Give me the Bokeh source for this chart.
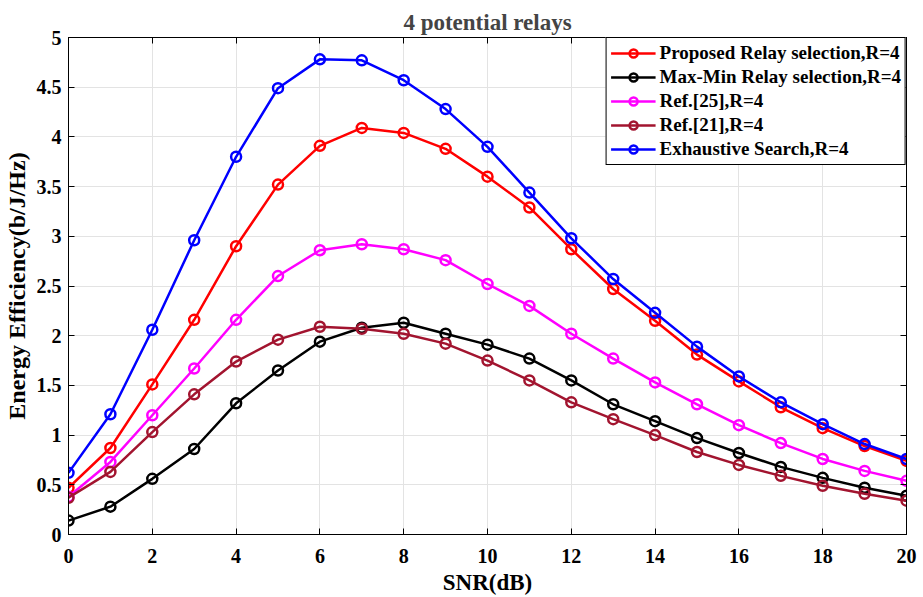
from bokeh.plotting import figure
from bokeh.models import FixedTicker, LinearAxis, Range1d, CustomJSTickFormatter
from bokeh.embed import file_html
from bokeh.resources import INLINE

snr = list(range(21))
proposed = [0.47, 0.87, 1.51, 2.16, 2.90, 3.52, 3.91, 4.09, 4.04, 3.88, 3.60, 3.29, 2.87,
            2.47, 2.15, 1.81, 1.54, 1.28, 1.07, 0.89, 0.74]
maxmin = [0.14, 0.28, 0.56, 0.86, 1.32, 1.65, 1.94, 2.08, 2.13, 2.02, 1.91, 1.77, 1.55,
          1.31, 1.14, 0.97, 0.82, 0.68, 0.57, 0.47, 0.39]
ref25 = [0.38, 0.73, 1.20, 1.67, 2.16, 2.60, 2.86, 2.92, 2.87, 2.76, 2.52, 2.30, 2.02,
         1.77, 1.53, 1.31, 1.10, 0.92, 0.76, 0.64, 0.54]
ref21 = [0.37, 0.63, 1.03, 1.41, 1.74, 1.96, 2.09, 2.07, 2.02, 1.92, 1.75, 1.55, 1.33,
         1.16, 1.00, 0.83, 0.70, 0.59, 0.49, 0.41, 0.34]
exhaustive = [0.62, 1.21, 2.06, 2.96, 3.80, 4.49, 4.78, 4.77, 4.57, 4.28, 3.90, 3.44, 2.98,
              2.57, 2.23, 1.89, 1.59, 1.33, 1.11, 0.91, 0.76]

series_labels = ["Proposed Relay selection,R=4", "Max-Min Relay selection,R=4",
                 "Ref.[25],R=4", "Ref.[21],R=4", "Exhaustive Search,R=4"]
series_colors = ["#FF0000", "#000000", "#FF00FF", "#A2142F", "#0000FF"]
series_values = [proposed, maxmin, ref25, ref21, exhaustive]

x_ticks = [0, 2, 4, 6, 8, 10, 12, 14, 16, 18, 20]
y_ticks = [0, 0.5, 1, 1.5, 2, 2.5, 3, 3.5, 4, 4.5, 5]

FONT = "Liberation Serif"

p = figure(frame_width=838, frame_height=497,
           x_range=Range1d(0, 20), y_range=Range1d(0, 5),
           output_backend="svg", toolbar_location=None,
           min_border_left=68, min_border_right=15, min_border_top=37, min_border_bottom=61,
           title="4 potential relays")

p.title.text_font = FONT
p.title.text_font_size = "23px"
p.title.text_font_style = "bold"
p.title.align = "center"
p.title.offset = 0
p.title.standoff = 6

p.outline_line_color = "black"
p.outline_line_width = 1
p.outline_line_alpha = 1

for ax, ticks in ((p.xaxis[0], x_ticks), (p.yaxis[0], y_ticks)):
    ax.ticker = FixedTicker(ticks=ticks)
    ax.formatter = CustomJSTickFormatter(code="return String(tick);")
    ax.major_label_text_font = FONT
    ax.major_label_text_font_size = "20px"
    ax.major_label_text_font_style = "bold"
    ax.major_label_text_color = "black"
    ax.major_tick_in = 6
    ax.major_tick_out = 0
    ax.minor_tick_line_color = None
    ax.axis_line_color = "black"
    ax.major_tick_line_color = "black"
    ax.axis_label_text_font = FONT
    ax.axis_label_text_font_style = "bold"
    ax.axis_label_text_color = "black"

p.xaxis.axis_label = "SNR(dB)"
p.xaxis.axis_label_text_font_size = "23px"
p.xaxis.major_label_standoff = 14
p.xaxis.axis_label_standoff = 4
p.yaxis.axis_label = "Energy Efficiency(b/J/Hz)"
p.yaxis.axis_label_text_font_size = "24px"
p.yaxis.major_label_standoff = 7
p.yaxis.axis_label_standoff = 4

top_axis = LinearAxis(ticker=FixedTicker(ticks=x_ticks),
                      formatter=CustomJSTickFormatter(code="return '';"),
                      major_tick_in=6, major_tick_out=0, minor_tick_line_color=None,
                      major_label_standoff=0, major_label_text_font_size="1px")
right_axis = LinearAxis(ticker=FixedTicker(ticks=y_ticks),
                        formatter=CustomJSTickFormatter(code="return '';"),
                        major_tick_in=6, major_tick_out=0, minor_tick_line_color=None,
                        major_label_standoff=0, major_label_text_font_size="1px")
p.add_layout(top_axis, "above")
p.add_layout(right_axis, "right")

p.xgrid.ticker = FixedTicker(ticks=x_ticks)
p.ygrid.ticker = FixedTicker(ticks=y_ticks)
p.grid.grid_line_color = "#e3e3e3"
p.grid.grid_line_width = 1

for label, color, vals in zip(series_labels, series_colors, series_values):
    p.line(snr, vals, line_color=color, line_width=2.5, legend_label=label)
    p.scatter(snr, vals, marker="circle", size=10, fill_color=None,
              line_color=color, line_width=2.5, legend_label=label)

lg = p.legend[0]
lg.location = "top_right"
lg.margin = 0
lg.padding = 4
lg.spacing = 2
lg.label_standoff = 4
lg.glyph_width = 45
lg.glyph_height = 20
lg.label_height = 20
lg.label_text_font = FONT
lg.label_text_font_size = "19px"
lg.label_text_font_style = "bold"
lg.label_text_color = "black"
lg.border_line_color = "black"
lg.border_line_width = 1
lg.border_line_alpha = 1
lg.background_fill_color = "white"
lg.background_fill_alpha = 1

open("out.html", "w").write(file_html(p, INLINE))
